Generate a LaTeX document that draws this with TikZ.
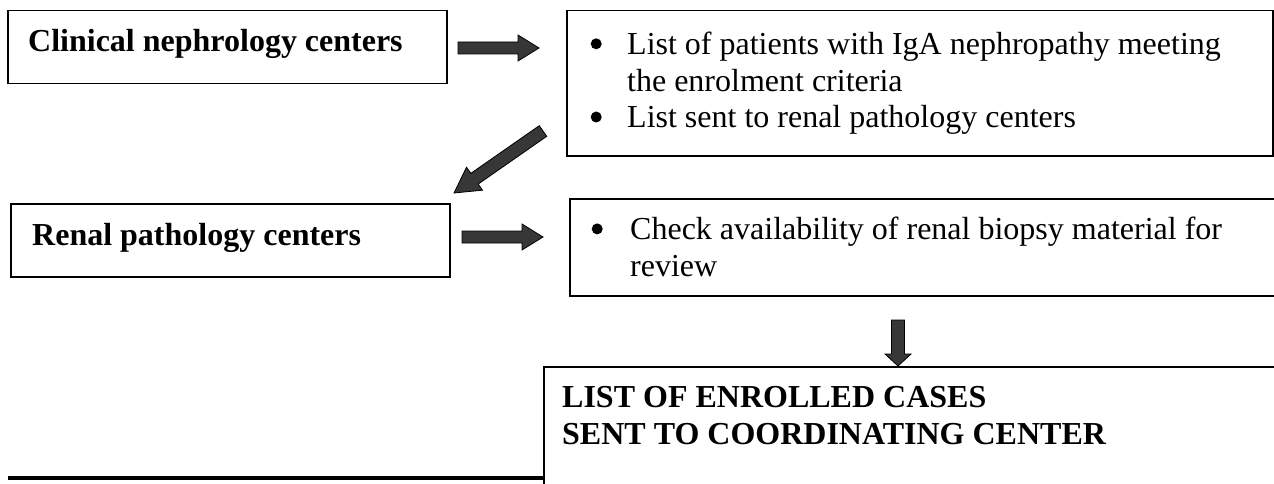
\documentclass[tikz,border=0pt]{standalone}
\usepackage{fontspec}
\setmainfont{Liberation Serif}
\usetikzlibrary{calc}
\definecolor{arrowgray}{RGB}{55,55,55}
\newcommand\bul[1]{\makebox[#1][l]{\tikz[baseline=0pt]\fill[black] (5.5pt,11pt) circle (5.5pt);}}
\tikzset{
  box/.style={draw=black, line width=1.5pt, inner sep=0pt, anchor=north west},
  txt/.style={inner sep=0pt, anchor=base west, align=left, font=\fontsize{32}{36.6}\selectfont},
  btxt/.style={txt, font=\fontsize{32}{36.6}\selectfont\bfseries},
  blockarrow/.style n args={3}{fill=arrowgray, draw=black, line width=0.8pt, line join=miter,
    to path={
      ($(\tikztostart)!#1!90:(\tikztotarget)$) --
      ($($(\tikztotarget)!#3!(\tikztostart)$)!#1!90:(\tikztotarget)$) --
      ($($(\tikztotarget)!#3!(\tikztostart)$)!#2!90:(\tikztotarget)$) --
      (\tikztotarget) --
      ($($(\tikztotarget)!#3!(\tikztostart)$)!#2!-90:(\tikztotarget)$) --
      ($($(\tikztotarget)!#3!(\tikztostart)$)!#1!-90:(\tikztotarget)$) --
      ($(\tikztostart)!#1!-90:(\tikztotarget)$) -- cycle}}
}
\begin{document}
\begin{tikzpicture}[x=1pt,y=-1pt]
\clip (0,0) rectangle (1274,484);
\fill[white] (0,0) rectangle (1274,484);
% boxes
\node[box, minimum width=439pt, minimum height=73pt] (b1) at (7,10) {};
\node[box, minimum width=706pt, minimum height=145pt] (b2) at (566,10) {};
\node[box, minimum width=439pt, minimum height=73pt] (b3) at (10,203) {};
\node[box, minimum width=730pt, minimum height=97pt] (b4) at (569,198) {};
\node[box, minimum width=760pt, minimum height=160pt] (b5) at (543,366) {};
% texts (base anchor = baseline of last line)
\node[btxt] (t1) at (28,52) {Clinical nephrology centers};
\node[txt] (t2) at (590.5,128) {\bul{36.5pt}List of patients with IgA nephropathy meeting\\\hspace*{36.5pt}the enrolment criteria\\\bul{36.5pt}List sent to renal pathology centers};
\node[btxt] (t3) at (32,245) {Renal pathology centers};
\node[txt] (t4) at (591.5,276.5) {\bul{38.5pt}Check availability of renal biopsy material for\\\hspace*{38.5pt}review};
\node[btxt] (t5) at (562,444) {LIST OF ENROLLED CASES\\SENT TO COORDINATING CENTER};
% arrow ends
\coordinate (a1s) at (458,48);
\coordinate (a1e) at (539,48);
\coordinate (a2s) at (543,131);
\coordinate (a2e) at (454,193);
\coordinate (a3s) at (462,237);
\coordinate (a3e) at (543,237);
\coordinate (a4s) at (898,320);
\coordinate (a4e) at (898,366);
\draw[blockarrow={6pt}{13pt}{21pt}] (a1s) to (a1e);
\draw[blockarrow={6.5pt}{14pt}{25pt}] (a2s) to (a2e);
\draw[blockarrow={6pt}{13pt}{21pt}] (a3s) to (a3e);
\draw[blockarrow={6.5pt}{13pt}{12pt}] (a4s) to (a4e);
% bottom rule
\coordinate (r1) at (8,478);
\draw[line width=4.5pt] (r1) -- (r1 -| b5.west);
\end{tikzpicture}
\end{document}
